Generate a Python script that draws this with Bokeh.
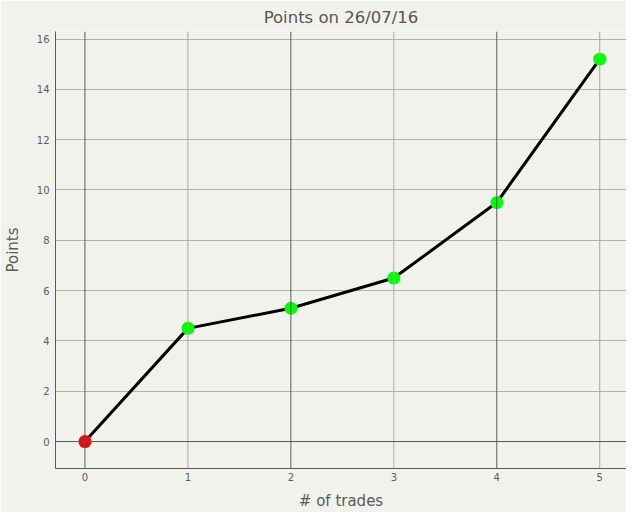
from bokeh.plotting import figure
from bokeh.models import Span, FixedTicker, ColumnDataSource, Range1d
from bokeh.embed import file_html
from bokeh.resources import INLINE

# data
trades = [0, 1, 2, 3, 4, 5]
points = [0, 4.5, 5.3, 6.5, 9.5, 15.2]
marker_colors = ["#ff0000", "#00ff00", "#00ff00", "#00ff00", "#00ff00", "#00ff00"]
x_ticks = [0, 1, 2, 3, 4, 5]
y_ticks = [0, 2, 4, 6, 8, 10, 12, 14, 16]
vgrid_colors = ["#5a5a5a", "#a8a8a2", "#5a5a5a", "#c4a2a8", "#5a5a5a", "#a8a8a2"]

BG = "#f2f2ec"
FONT = "DejaVu Sans"

p = figure(width=626, height=512, output_backend="svg", toolbar_location=None,
           x_range=Range1d(-0.286, 5.26), y_range=Range1d(-1.07, 16.3),
           title="Points on 26/07/16",
           min_border_left=54, min_border_right=0, min_border_top=24, min_border_bottom=36)
p.background_fill_color = BG
p.border_fill_color = BG
p.outline_line_color = None

p.title.align = "center"
p.title.text_font = FONT
p.title.text_font_size = "16.5px"
p.title.text_font_style = "normal"
p.title.text_color = "#555555"
p.title.offset = 0

p.xgrid.grid_line_color = None
p.ygrid.grid_line_color = "#b4b4ac"
p.ygrid.grid_line_width = 1

for xv, c in zip(x_ticks, vgrid_colors):
    p.add_layout(Span(location=xv, dimension="height", line_color=c, line_width=1))
p.add_layout(Span(location=0, dimension="width", line_color="#5a5a5a", line_width=1))

for ax in (p.xaxis[0], p.yaxis[0]):
    ax.axis_line_color = "#5a5a5a"
    ax.axis_line_width = 1
    ax.major_tick_line_color = None
    ax.minor_tick_line_color = None
    ax.major_tick_in = 0
    ax.major_tick_out = 0
    ax.major_label_text_font = FONT
    ax.major_label_text_font_size = "10px"
    ax.major_label_text_color = "#5a5a66"
    ax.axis_label_text_font = FONT
    ax.axis_label_text_font_size = "15px"
    ax.axis_label_text_font_style = "normal"
    ax.axis_label_text_color = "#5a5a5a"

p.xaxis.ticker = FixedTicker(ticks=x_ticks)
p.yaxis.ticker = FixedTicker(ticks=y_ticks)
p.xaxis.axis_label = "# of trades"
p.yaxis.axis_label = "Points"
p.xaxis.major_label_standoff = 4
p.yaxis.major_label_standoff = 6
p.xaxis.axis_label_standoff = 8
p.yaxis.axis_label_standoff = 12

src = ColumnDataSource(dict(x=trades, y=points, c=marker_colors))
p.line("x", "y", source=src, line_color="black", line_width=3)
p.scatter("x", "y", source=src, size=13, fill_color="c", line_color=None)

open("out.html", "w").write(file_html(p, INLINE))
